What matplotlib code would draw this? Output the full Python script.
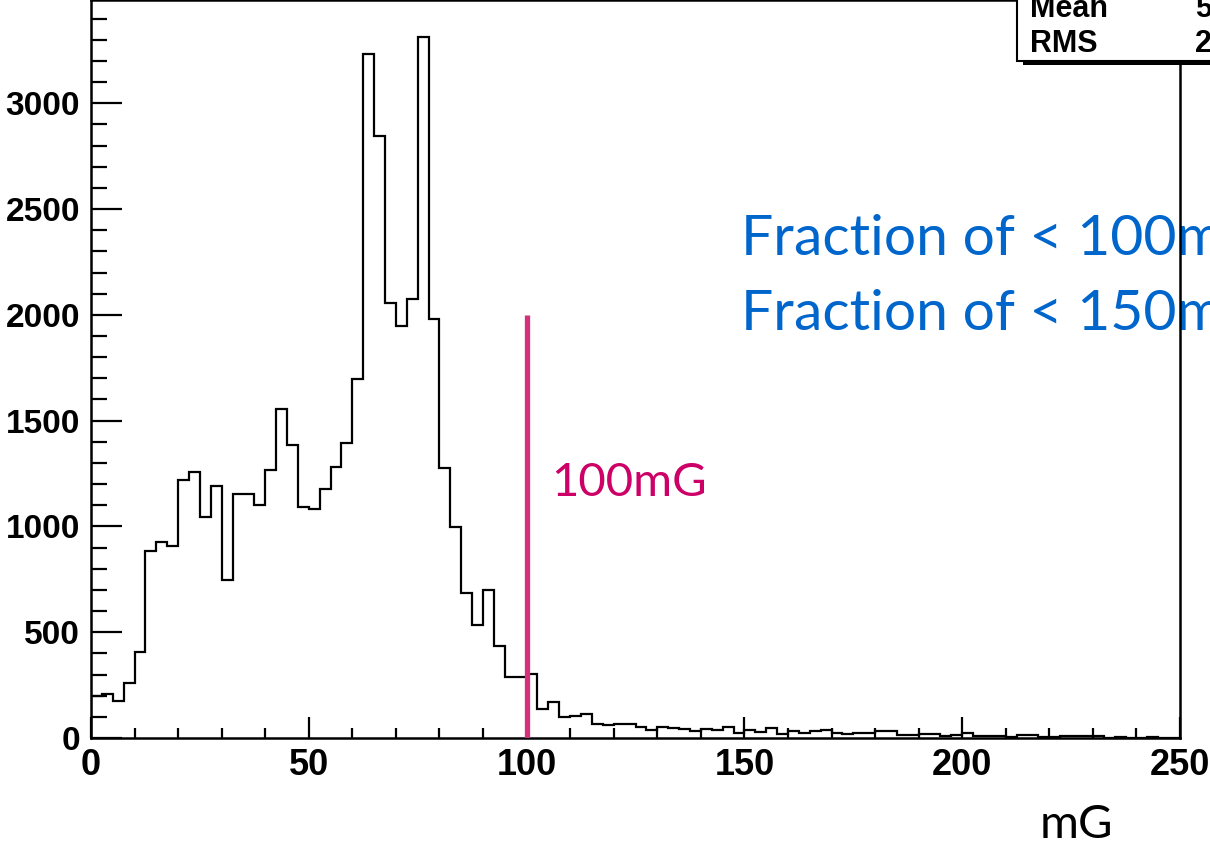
import numpy as np
import matplotlib
matplotlib.use("Agg")
import matplotlib.pyplot as plt
from matplotlib.patches import Rectangle
from matplotlib.ticker import MultipleLocator

# field magnitude histogram, 2.5 mG bins from 0 to 250 mG
bin_lo, bin_hi = 0, 250
counts = [
    200, 208, 177, 262, 408, 884, 928, 909, 1220, 1256,
    1046, 1190, 747, 1152, 1155, 1102, 1268, 1555, 1385, 1091,
    1080, 1178, 1283, 1396, 1696, 3233, 2843, 2054, 1946, 2076,
    3315, 1980, 1277, 995, 684, 534, 699, 436, 290, 287,
    302, 135, 172, 101, 106, 113, 68, 60, 64, 68,
    50, 38, 52, 47, 43, 33, 44, 39, 50, 25,
    36, 28, 46, 20, 31, 24, 33, 36, 24, 20,
    22, 24, 35, 33, 13, 13, 19, 17, 11, 14,
    24, 9, 9, 9, 6, 14, 13, 3, 3, 9,
    9, 9, 9, 2, 3, 2, 2, 3, 2, 1,
]
cut_mg = 100
cut_line_top = 2000
y_top = 3488

edges = np.linspace(bin_lo, bin_hi, len(counts) + 1)
centers = 0.5 * (edges[:-1] + edges[1:])
w = np.array(counts, dtype=float)
mean = np.sum(w * centers) / w.sum()
rms = np.sqrt(np.sum(w * (centers - mean) ** 2) / w.sum())

W, H = 1210, 846
plt.rcParams["font.family"] = ["Liberation Sans", "DejaVu Sans"]

fig = plt.figure(figsize=(W / 100, H / 100), dpi=100)
ax = fig.add_axes([91 / W, 1 - 738 / H, (1180 - 91) / W, 738 / H])

ax.stairs(counts, edges, color="black", lw=1.6, baseline=0, zorder=3)
ax.vlines(cut_mg, 0, cut_line_top, color="#d6307a", lw=3.8, zorder=4)

ax.set_xlim(bin_lo, bin_hi)
ax.set_ylim(0, y_top)
ax.xaxis.set_major_locator(MultipleLocator(50))
ax.xaxis.set_minor_locator(MultipleLocator(10))
ax.yaxis.set_major_locator(MultipleLocator(500))
ax.yaxis.set_minor_locator(MultipleLocator(100))
ax.tick_params(which="both", direction="in", top=False, right=False, width=1.6)
ax.tick_params(axis="x", which="major", length=15, pad=7, labelsize=26)
ax.tick_params(axis="x", which="minor", length=7)
ax.tick_params(axis="y", which="major", length=22, pad=8, labelsize=24)
ax.tick_params(axis="y", which="minor", length=11.5)
for lab in ax.get_xticklabels() + ax.get_yticklabels():
    lab.set_fontweight("bold")
for s in ax.spines.values():
    s.set_linewidth(1.8)

# annotations (Calibri-like text from the slide)
ax.text(551 / W, 1 - 496 / H, "100mG", transform=fig.transFigure, color="#cc0066",
        fontsize=34, family="Lato", va="baseline", ha="left", zorder=2)
ax.text(741 / W, 1 - 255 / H, "Fraction of < 100mG", transform=fig.transFigure,
        color="#0066cc", fontsize=41, family="Lato", va="baseline", ha="left",
        zorder=2, clip_on=False)
ax.text(741 / W, 1 - 330 / H, "Fraction of < 150mG", transform=fig.transFigure,
        color="#0066cc", fontsize=41, family="Lato", va="baseline", ha="left",
        zorder=2, clip_on=False)
fig.text(1040 / W, 1 - 838 / H, "mG", fontsize=34, family="Lato",
         va="baseline", ha="left")

# stats box, cut by the top right corner
fig.add_artist(Rectangle((1023 / W, 1 - 65 / H), 1, 1, transform=fig.transFigure,
                         facecolor="black", edgecolor="none", zorder=5))
fig.add_artist(Rectangle((1017 / W, 1 - 61 / H), 1, 1, transform=fig.transFigure,
                         facecolor="white", edgecolor="black", lw=1.5, zorder=6))
fig.text(1030 / W, 1 - 17 / H, "Mean", fontsize=22, fontweight="bold", va="baseline", zorder=7)
fig.text(1030 / W, 1 - 52 / H, "RMS", fontsize=22, fontweight="bold", va="baseline", zorder=7)
fig.text(1195 / W, 1 - 17 / H, "%.2f" % mean, fontsize=22, fontweight="bold", va="baseline", zorder=7)
fig.text(1195 / W, 1 - 52 / H, "%.2f" % rms, fontsize=22, fontweight="bold", va="baseline", zorder=7)

fig.savefig("out.png", dpi=100)
